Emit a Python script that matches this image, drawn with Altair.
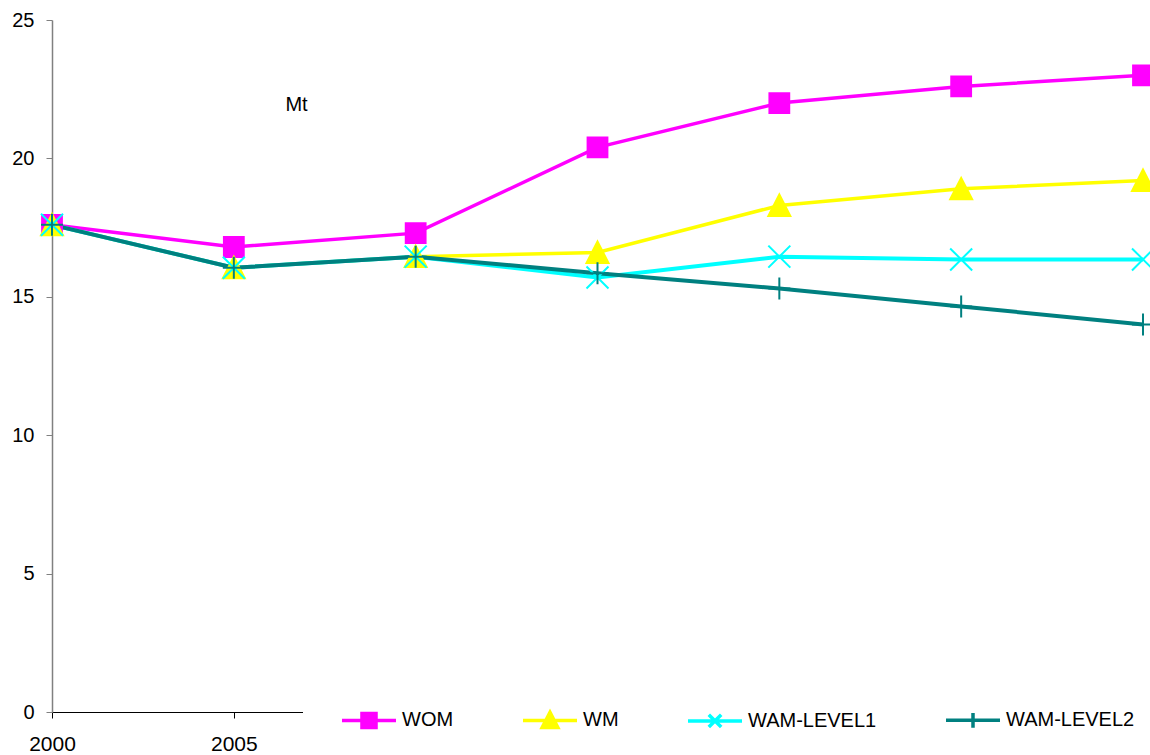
import altair as alt
import pandas as pd

years = [2000, 2005, 2010, 2015, 2020, 2025, 2030]
series_names = ["WOM", "WM", "WAM-LEVEL1", "WAM-LEVEL2"]
wom = [17.6, 16.8, 17.3, 20.4, 22.0, 22.6, 23.0]
wm = [17.6, 16.05, 16.45, 16.6, 18.3, 18.9, 19.2]
wam1 = [17.6, 16.05, 16.45, 15.7, 16.45, 16.35, 16.35]
wam2 = [17.6, 16.05, 16.45, 15.85, 15.3, 14.65, 14.0]
colors = ["#FF00FF", "#FFFF00", "#00FFFF", "#008080"]
line_widths = [3.5, 3.5, 4, 4]
y_ticks = [0, 5, 10, 15, 20, 25]
x_ticks = [2000, 2005, 2010, 2015, 2020, 2025, 2030]

# marker shapes for the plot (unit square -1..1)
shape_chart = [
    "M-0.9,-0.9H0.9V0.9H-0.9Z",
    "M0,-1L1,0.95L-1,0.95Z",
    "M-1,-1L1,1M-1,1L1,-1",
    "M-1,0H1M0,-1V1",
]
# legend symbols: line segment plus marker
shape_legend = [
    "M-1,0H1M-0.26,-0.26H0.26V0.26H-0.26Z",
    "M-1,0H1M0,-0.3L0.29,0.26L-0.29,0.26Z",
    "M-1,0H1M-0.23,-0.23L0.23,0.23M-0.23,0.23L0.23,-0.23",
    "M-1,0H1M0,-0.27V0.27",
]

rows = []
for name, vals in zip(series_names, [wom, wm, wam1, wam2]):
    for yr, v in zip(years, vals):
        rows.append({"year": yr, "series": name, "value": v})
df = pd.DataFrame(rows)

FONT = "Liberation Sans"

X = alt.X(
    "year:Q",
    scale=alt.Scale(domain=[2000, 2030], nice=False, zero=False),
    axis=alt.Axis(
        values=x_ticks, format="d", title=None, grid=False,
        labelExpr="datum.value <= 2005 ? datum.label : ''",
        domainColor="black", domainWidth=1, tickColor="black", tickSize=6,
        labelFontSize=21, labelFont=FONT, labelColor="black", labelPadding=15,
        labelFlush=False, labelOverlap=False,
    ),
)
Y = alt.Y(
    "value:Q",
    scale=alt.Scale(domain=[0, 25], nice=False),
    axis=alt.Axis(
        values=y_ticks, grid=False, title="Mt", titleAngle=0, titleX=244, titleY=84,
        titleAlign="center", titleBaseline="middle", titleFontSize=20,
        titleFontWeight="normal", titleFont=FONT, titleColor="black",
        domainColor="#808080", domainWidth=1.5, tickColor="#808080", tickSize=6,
        labelFontSize=20, labelFont=FONT, labelColor="black", labelPadding=12,
    ),
)

layers = []
for name, col, w in zip(series_names, colors, line_widths):
    layers.append(
        alt.Chart(df)
        .transform_filter(alt.datum.series == name)
        .mark_line(color=col, strokeWidth=w)
        .encode(x=X, y=Y)
    )

points = alt.Chart(df).mark_point(filled=True, size=484, strokeWidth=2, opacity=1).encode(
    x=X,
    y=Y,
    color=alt.Color("series:N", scale=alt.Scale(domain=series_names, range=colors), legend=None),
    stroke=alt.Stroke("series:N", scale=alt.Scale(domain=series_names, range=colors), legend=None),
    shape=alt.Shape("series:N", scale=alt.Scale(domain=series_names, range=shape_chart), legend=None),
)
layers.append(points)

leg = alt.Legend(
    title=None, orient="none", legendX=251, legendY=634, direction="horizontal",
    columns=4, fillColor="white", padding=37, columnPadding=62,
    symbolSize=2916, symbolStrokeWidth=3.5, symbolOpacity=1,
    labelFontSize=20, labelFont=FONT, labelColor="black", labelOffset=4,
)
legend_layer = (
    alt.Chart(df)
    .transform_filter("false")
    .mark_point(filled=True, size=2916, strokeWidth=3.5, opacity=1)
    .encode(
        x=X,
        y=Y,
        color=alt.Color("series:N", scale=alt.Scale(domain=series_names, range=colors), legend=leg),
        stroke=alt.Stroke("series:N", scale=alt.Scale(domain=series_names, range=colors), legend=leg),
        shape=alt.Shape("series:N", scale=alt.Scale(domain=series_names, range=shape_legend), legend=leg),
    )
)
layers.append(legend_layer)

chart = (
    alt.layer(*layers)
    .resolve_scale(color="independent", stroke="independent", shape="independent")
    .properties(
        width=1091,
        height=692,
        autosize=alt.AutoSizeParams(type="none"),
        padding={"left": 52, "top": 20, "right": 7, "bottom": 43},
        background="white",
    )
    .configure_view(stroke=None)
)

chart.save("out.html", embed_options={"renderer": "svg", "actions": False})
